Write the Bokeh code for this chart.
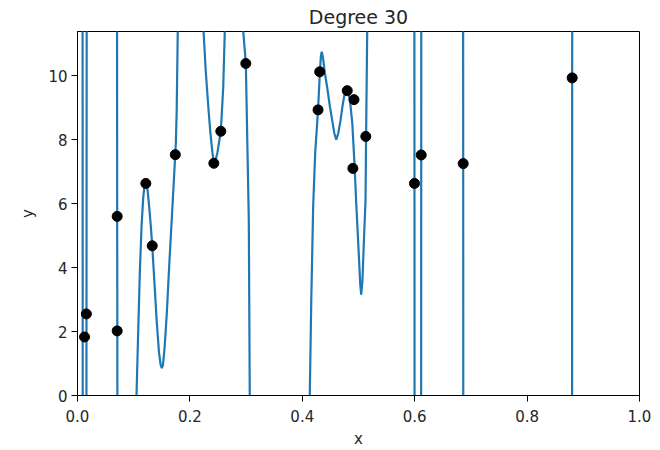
from bokeh.plotting import figure
from bokeh.models import Range1d, FixedTicker, PrintfTickFormatter
from bokeh.embed import file_html
from bokeh.resources import INLINE

# ---- data: scatter points ----
pts_x = [0.0125, 0.0158, 0.0706, 0.0706, 0.1216, 0.1330, 0.1740, 0.2426, 0.2550, 0.2995,
         0.4280, 0.4310, 0.4800, 0.4900, 0.4920, 0.5130, 0.5996, 0.6116, 0.6863, 0.8802]
pts_y = [1.83, 2.55, 5.60, 2.02, 6.63, 4.68, 7.53, 7.26, 8.26, 10.38,
         8.93, 10.12, 9.53, 7.10, 9.25, 8.10, 6.63, 7.52, 7.25, 9.93]

# ---- data: degree-30 fitted curve ----
curve_x = [
    0.0000, 0.0088, 0.0092, 0.0096,
    0.0150, 0.0160, 0.0168,
    0.0700, 0.0706, 0.0709, 0.0714,
    0.1000, 0.1050, 0.1080, 0.1110, 0.1140, 0.1170, 0.1195, 0.1216, 0.1240, 0.1270,
    0.1300, 0.1330, 0.1370, 0.1410, 0.1450, 0.1480, 0.1500, 0.1520, 0.1550, 0.1590,
    0.1630, 0.1680, 0.1720, 0.1750, 0.1765, 0.1784, 0.1830,
    0.2200, 0.2243, 0.2280, 0.2320, 0.2360, 0.2400, 0.2426, 0.2450, 0.2490, 0.2550,
    0.2593, 0.2621, 0.2660,
    0.2920, 0.2948, 0.2995, 0.3048, 0.3065, 0.3100,
    0.4100, 0.4133, 0.4160, 0.4193, 0.4230, 0.4280, 0.4310, 0.4330, 0.4345, 0.4365,
    0.4400, 0.4443, 0.4490, 0.4532, 0.4570, 0.4604, 0.4640, 0.4680, 0.4720, 0.4760,
    0.4786, 0.4815, 0.4850, 0.4890, 0.4930, 0.4960, 0.5000, 0.5030, 0.5048, 0.5070,
    0.5100, 0.5125, 0.5135, 0.5155, 0.5180,
    0.5990, 0.5996, 0.6002,
    0.6111, 0.6116, 0.6121,
    0.6858, 0.6863, 0.6868,
    0.8797, 0.8802, 0.8807,
    1.0000]
curve_y = [
    25, 25, 5, -25,
    -25, 2.5, 25,
    25, 5.6, 2.0, -25,
    -4, 0.0, 2.0, 3.9, 5.3, 6.2, 6.6, 6.72, 6.55, 6.0,
    5.4, 4.68, 3.5, 2.3, 1.35, 0.95, 0.86, 0.95, 1.5, 2.6,
    4.0, 5.6, 6.9, 7.9, 8.9, 11.4, 16,
    16, 11.4, 10.2, 9.2, 8.3, 7.6, 7.3, 7.3, 7.6, 8.26,
    9.63, 11.4, 15,
    15, 11.4, 10.4, 5.5, 0.0, -6,
    -6, 0.0, 3.0, 5.9, 7.6, 8.93, 10.0, 10.6, 10.75, 10.6,
    10.1, 9.63, 9.05, 8.6, 8.2, 8.0, 8.2, 8.6, 9.1, 9.5,
    9.58, 9.5, 9.2, 8.5, 7.2, 6.0, 4.6, 3.5, 3.15, 3.6,
    5.0, 6.1, 8.1, 11.4, 18,
    25, 6.63, -25,
    -25, 7.52, 25,
    25, 7.25, -25,
    -25, 9.93, 25,
    25]

x_ticks = [0.0, 0.2, 0.4, 0.6, 0.8, 1.0]
y_ticks = [0, 2, 4, 6, 8, 10]
title_text = "Degree 30"
x_label = "x"
y_label = "y"

FONT = "DejaVu Sans"
TXT = "#262626"

p = figure(width=660, height=450, output_backend="svg", toolbar_location=None,
           x_range=Range1d(0, 1), y_range=Range1d(0, 11.38),
           min_border_left=77, min_border_right=21, min_border_top=31, min_border_bottom=54,
           title=title_text)

p.line(curve_x, curve_y, line_color="#1f77b4", line_width=2.2)
p.scatter(pts_x, pts_y, size=10, fill_color="black", line_color="black")

p.title.text_font = FONT
p.title.text_font_size = "19px"
p.title.text_font_style = "normal"
p.title.text_color = TXT
p.title.align = "center"
p.title.standoff = 7

p.xgrid.visible = False
p.ygrid.visible = False
p.outline_line_color = "black"
p.outline_line_width = 1
p.background_fill_color = "white"
p.border_fill_color = "white"

for ax in (p.xaxis[0], p.yaxis[0]):
    ax.axis_line_color = "black"
    ax.major_tick_line_color = "black"
    ax.major_tick_out = 6
    ax.major_tick_in = 0
    ax.minor_tick_line_color = None
    ax.major_label_text_font = FONT
    ax.major_label_text_font_size = "15px"
    ax.major_label_text_color = TXT
    ax.axis_label_text_font = FONT
    ax.axis_label_text_font_size = "15px"
    ax.axis_label_text_font_style = "normal"
    ax.axis_label_text_color = TXT
    ax.major_label_standoff = 4

p.xaxis[0].ticker = FixedTicker(ticks=x_ticks)
p.xaxis[0].formatter = PrintfTickFormatter(format="%.1f")
p.xaxis[0].axis_label = x_label
p.xaxis[0].major_label_standoff = 8
p.xaxis[0].axis_label_standoff = 5
p.yaxis[0].ticker = FixedTicker(ticks=y_ticks)
p.yaxis[0].axis_label = y_label
p.yaxis[0].axis_label_standoff = 8

open("out.html", "w").write(file_html(p, INLINE))
